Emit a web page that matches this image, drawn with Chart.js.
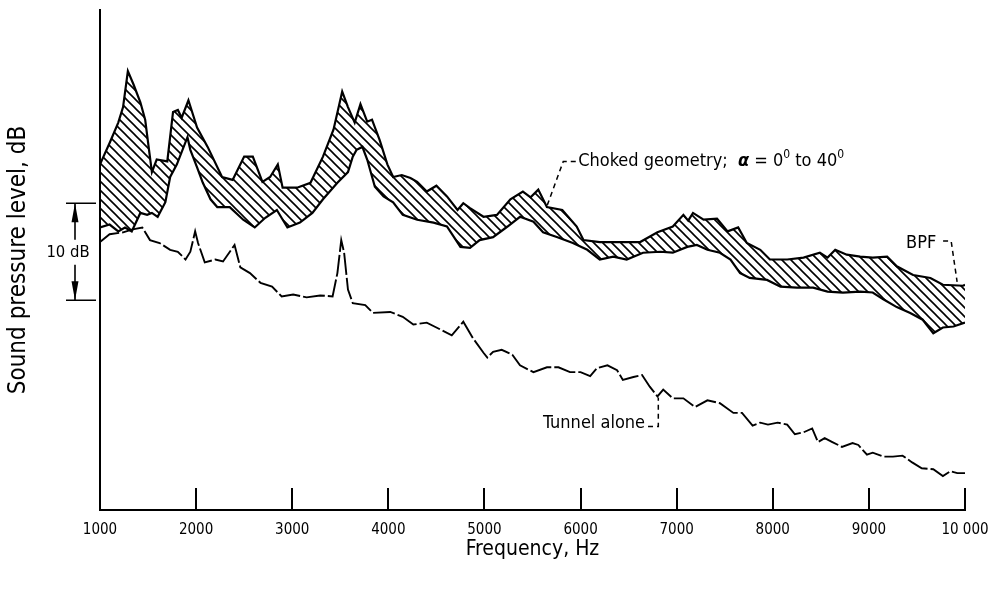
<!DOCTYPE html>
<html>
<head>
<meta charset="utf-8">
<title>Sound pressure level vs frequency</title>
<script src="https://cdn.jsdelivr.net/npm/chart.js@4.4.1/dist/chart.umd.min.js"></script>
<style>
  html, body { margin: 0; padding: 0; background: #fff; }
  canvas { display: block; }
</style>
</head>
<body>
<canvas id="spectrum" width="996" height="590"></canvas>
<script>
// Values: frequency in Hz, level in dB (arbitrary reference, no tick values on the plot)

// upper edge of the hatched band (choked geometry, alpha = 0 to 40 deg)
const bandTopFreq = [1000, 1100, 1190, 1240, 1290, 1350, 1420, 1470, 1510, 1540, 1590, 1700, 1760, 1810, 1850, 1920,
  2010, 2120, 2270, 2380, 2500, 2590, 2690, 2770, 2850, 2900, 3050, 3190, 3320, 3430, 3520, 3580, 3650, 3710, 3780,
  3830, 3910, 3990, 4050, 4140, 4230, 4300, 4400, 4500, 4610, 4720, 4780, 4850, 4990, 5130, 5270, 5400, 5480, 5560,
  5650, 5810, 5960, 6030, 6200, 6410, 6620, 6800, 6960, 7070, 7120, 7170, 7280, 7420, 7530, 7640, 7730, 7870, 7970,
  8150, 8320, 8490, 8570, 8650, 8770, 8910, 9040, 9190, 9290, 9460, 9640, 9770, 9980, 10000];
const bandTopLevel = [95.6, 97.8, 99.9, 101.5, 105.2, 103.8, 102.0, 100.2, 97.1, 94.8, 96.1, 95.9, 101.0, 101.2, 100.4, 102.2,
  99.4, 97.4, 94.3, 94.0, 96.4, 96.4, 93.8, 94.3, 95.6, 93.2, 93.2, 93.7, 96.4, 99.2, 103.1, 101.5, 99.9, 101.8, 100.0,
  100.2, 98.1, 95.6, 94.3, 94.5, 94.2, 93.8, 92.8, 93.4, 92.3, 90.9, 91.6, 91.1, 90.2, 90.4, 92.0, 92.8, 92.2, 93.0,
  91.2, 90.9, 89.2, 87.8, 87.6, 87.6, 87.6, 88.6, 89.2, 90.4, 89.8, 90.6, 89.9, 90.0, 88.7, 89.1, 87.5, 86.8, 85.8,
  85.8, 86.0, 86.5, 86.0, 86.8, 86.3, 86.1, 86.0, 86.1, 85.1, 84.2, 83.9, 83.2, 83.1, 83.2];

// lower edge of the hatched band
const bandBottomFreq = [1000, 1100, 1190, 1260, 1330, 1420, 1490, 1540, 1600, 1680, 1730, 1800, 1910, 1940, 2010, 2070,
  2150, 2220, 2350, 2490, 2610, 2720, 2840, 2950, 3080, 3210, 3320, 3470, 3580, 3630, 3670, 3730, 3780, 3860, 3950,
  4050, 4150, 4300, 4470, 4610, 4750, 4850, 4950, 5090, 5240, 5370, 5510, 5610, 5760, 5920, 6070, 6200, 6340, 6480,
  6650, 6830, 6960, 7110, 7210, 7320, 7450, 7560, 7660, 7760, 7940, 8080, 8250, 8420, 8570, 8730, 8910, 9040, 9150,
  9290, 9430, 9560, 9670, 9770, 9880, 10000];
const bandBottomLevel = [89.1, 89.4, 88.7, 89.1, 88.7, 90.6, 90.4, 90.6, 90.2, 91.7, 94.3, 95.6, 98.4, 97.1, 95.3, 93.7,
  92.0, 91.2, 91.2, 89.9, 89.1, 90.1, 90.9, 89.1, 89.6, 90.6, 92.0, 93.7, 94.8, 96.4, 97.1, 97.4, 96.1, 93.3, 92.3,
  91.7, 90.4, 89.9, 89.6, 89.2, 87.1, 87.0, 87.8, 88.1, 89.2, 90.2, 89.7, 88.6, 88.1, 87.5, 86.8, 85.8, 86.1, 85.8,
  86.5, 86.6, 86.5, 87.1, 87.3, 86.8, 86.5, 85.8, 84.4, 83.9, 83.7, 83.0, 82.9, 82.9, 82.5, 82.4, 82.5, 82.4, 81.7,
  80.9, 80.3, 79.6, 78.2, 78.8, 78.9, 79.3];

// tunnel alone
const tunnelFreq = [1000, 1100, 1240, 1340, 1440, 1520, 1620, 1730, 1810, 1890, 1940, 1990, 2020, 2090, 2200, 2280,
  2400, 2460, 2560, 2670, 2790, 2890, 3010, 3150, 3290, 3420, 3470, 3510, 3540, 3580, 3630, 3760, 3840, 4020, 4150,
  4260, 4400, 4540, 4660, 4780, 4880, 4990, 5030, 5090, 5180, 5290, 5370, 5510, 5650, 5770, 5890, 6000, 6100, 6170,
  6280, 6380, 6440, 6550, 6640, 6720, 6800, 6860, 6960, 7070, 7190, 7320, 7450, 7590, 7680, 7790, 7870, 7950, 8050,
  8150, 8230, 8320, 8410, 8470, 8540, 8620, 8720, 8830, 8890, 8980, 9040, 9150, 9250, 9350, 9450, 9550, 9670, 9770,
  9850, 9920, 10000];
const tunnelLevel = [87.6, 88.4, 88.6, 88.9, 89.1, 87.8, 87.5, 86.8, 86.6, 85.8, 86.6, 88.7, 87.5, 85.5, 85.8, 85.6,
  87.3, 85.0, 84.4, 83.4, 83.0, 82.0, 82.2, 81.9, 82.1, 82.0, 84.4, 87.8, 86.5, 82.7, 81.3, 81.1, 80.3, 80.4, 79.9,
  79.1, 79.3, 78.6, 78.0, 79.4, 77.7, 76.2, 75.7, 76.3, 76.5, 76.0, 74.9, 74.2, 74.7, 74.7, 74.2, 74.2, 73.8, 74.6,
  74.9, 74.4, 73.4, 73.7, 73.9, 72.7, 71.7, 72.4, 71.5, 71.5, 70.6, 71.3, 71.0, 70.0, 70.0, 68.7, 69.0, 68.8, 69.0,
  68.8, 67.8, 68.0, 68.4, 67.0, 67.4, 67.0, 66.5, 66.9, 66.7, 65.7, 65.9, 65.5, 65.5, 65.6, 64.9, 64.3, 64.2, 63.5,
  64.0, 63.8, 63.8];

const freqTicks = [1000, 2000, 3000, 4000, 5000, 6000, 7000, 8000, 9000, 10000];
const freqTickLabels = ["1000", "2000", "3000", "4000", "5000", "6000", "7000", "8000", "9000", "10 000"];

// 10 dB scale bar drawn beside the level axis
const scaleBarTop = 91.6;
const scaleBarSpan = 10;

const NARROW = "'DejaVu Sans Condensed', 'DejaVu Sans', sans-serif";

function toPoints(freqs, levels) {
    return freqs.map((f, i) => ({ x: f, y: levels[i] }));
}

// diagonal hatching for the band between the two choked-geometry curves
function makeHatch(ctx) {
    const size = 9;
    const tile = document.createElement("canvas");
    tile.width = size;
    tile.height = size;
    const g = tile.getContext("2d");
    g.strokeStyle = "#000";
    g.lineWidth = 1.6;
    g.beginPath();
    g.moveTo(-2, -2); g.lineTo(size + 2, size + 2);
    g.moveTo(-2, size - 2); g.lineTo(2, size + 2);
    g.moveTo(size - 2, -2); g.lineTo(size + 2, 2);
    g.stroke();
    return ctx.createPattern(tile, "repeat");
}

// inward tick marks on the frequency axis + the 10 dB bar on the left
const axisDecorations = {
    id: "axisDecorations",
    afterDraw(chart) {
        const { ctx, chartArea, scales: { x, y } } = chart;
        ctx.save();
        ctx.strokeStyle = "#000";
        ctx.fillStyle = "#000";

        ctx.lineWidth = 2;
        x.ticks.forEach((t, i) => {
            if (i === 0) return; // the level axis sits there
            const px = Math.round(x.getPixelForValue(t.value));
            ctx.beginPath();
            ctx.moveTo(px, chartArea.bottom);
            ctx.lineTo(px, chartArea.bottom - 22);
            ctx.stroke();
        });

        const left = chartArea.left;
        const yTop = y.getPixelForValue(scaleBarTop);
        const yBot = y.getPixelForValue(scaleBarTop - scaleBarSpan);
        const yMid = (yTop + yBot) / 2;
        const ax = left - 25;

        ctx.lineWidth = 1.6;
        ctx.beginPath();
        ctx.moveTo(left - 34, yTop); ctx.lineTo(left - 4, yTop);
        ctx.moveTo(left - 34, yBot); ctx.lineTo(left - 4, yBot);
        ctx.moveTo(ax, yTop); ctx.lineTo(ax, yMid - 12);
        ctx.moveTo(ax, yMid + 13); ctx.lineTo(ax, yBot);
        ctx.stroke();

        // arrow heads
        ctx.beginPath();
        ctx.moveTo(ax, yTop); ctx.lineTo(ax - 3.5, yTop + 19); ctx.lineTo(ax + 3.5, yTop + 19); ctx.closePath();
        ctx.moveTo(ax, yBot); ctx.lineTo(ax - 3.5, yBot - 19); ctx.lineTo(ax + 3.5, yBot - 19); ctx.closePath();
        ctx.fill();

        ctx.font = "16.5px " + NARROW;
        ctx.textAlign = "center";
        ctx.textBaseline = "middle";
        ctx.fillStyle = "#fff";
        ctx.fillRect(left - 54, yMid - 10, 44, 20);
        ctx.fillStyle = "#000";
        ctx.fillText("10 dB", left - 32, yMid + 1);
        ctx.restore();
    }
};

// run a dashed leader through points given in (Hz, dB)
function leader(ctx, x, y, path) {
    ctx.beginPath();
    path.forEach(([f, l], i) => {
        const px = x.getPixelForValue(f);
        const py = y.getPixelForValue(l);
        if (i === 0) ctx.moveTo(px, py); else ctx.lineTo(px, py);
    });
    ctx.stroke();
}

// write text made of pieces, some of them raised as superscripts
function pieces(ctx, px, py, parts) {
    let cx = px;
    parts.forEach(p => {
        ctx.font = p.font;
        ctx.fillText(p.text, cx, py - (p.raise || 0));
        cx += ctx.measureText(p.text).width;
    });
}

const notes = {
    id: "notes",
    afterDatasetsDraw(chart) {
        const { ctx, scales: { x, y } } = chart;
        ctx.save();
        ctx.strokeStyle = "#000";
        ctx.fillStyle = "#000";
        ctx.lineWidth = 1.5;
        ctx.setLineDash([5, 4]);
        ctx.textBaseline = "middle";

        // Choked geometry
        leader(ctx, x, y, [[5950, 95.9], [5820, 95.9], [5650, 91.3]]);
        ctx.textAlign = "left";
        const normal = "18px " + NARROW;
        pieces(ctx, x.getPixelForValue(5975), y.getPixelForValue(95.9), [
            { text: "Choked geometry;  ", font: normal },
            { text: "\u03b1", font: "bold italic 18px " + NARROW },
            { text: " = 0", font: normal },
            { text: "0", font: "12px " + NARROW, raise: 7 },
            { text: " to 40", font: normal },
            { text: "0", font: "12px " + NARROW, raise: 7 }
        ]);

        // BPF
        leader(ctx, x, y, [[9772, 87.7], [9856, 87.7], [9918, 83.5]]);
        ctx.font = normal;
        ctx.fillText("BPF", x.getPixelForValue(9387), y.getPixelForValue(87.5));

        // Tunnel alone
        leader(ctx, x, y, [[6702, 68.6], [6809, 68.6], [6809, 71.6]]);
        ctx.textAlign = "right";
        ctx.fillText("Tunnel alone", x.getPixelForValue(6671), y.getPixelForValue(68.9));

        ctx.restore();
    }
};

const canvas = document.getElementById("spectrum");
const hatch = makeHatch(canvas.getContext("2d"));

new Chart(canvas, {
    type: "line",
    data: {
        datasets: [
            {
                label: "Choked geometry, lower",
                data: toPoints(bandBottomFreq, bandBottomLevel),
                borderColor: "#000",
                borderWidth: 2.2,
                pointRadius: 0,
                tension: 0,
                fill: false
            },
            {
                label: "Choked geometry, upper",
                data: toPoints(bandTopFreq, bandTopLevel),
                borderColor: "#000",
                borderWidth: 2.2,
                pointRadius: 0,
                tension: 0,
                fill: "-1",
                backgroundColor: hatch
            },
            {
                label: "Tunnel alone",
                data: toPoints(tunnelFreq, tunnelLevel),
                borderColor: "#000",
                borderWidth: 1.9,
                borderDash: [22, 3],
                pointRadius: 0,
                tension: 0,
                fill: false
            }
        ]
    },
    options: {
        responsive: false,
        animation: false,
        devicePixelRatio: 1,
        layout: { padding: { top: 10, right: 31, bottom: 0, left: 0 } },
        plugins: {
            legend: { display: false },
            tooltip: { enabled: false }
        },
        scales: {
            x: {
                type: "linear",
                min: 1000,
                max: 10000,
                grid: { display: false },
                border: { display: true, color: "#000", width: 2 },
                afterBuildTicks: s => { s.ticks = freqTicks.map(v => ({ value: v })); },
                afterFit: s => { s.height = 80; },
                ticks: {
                    color: "#000",
                    font: { family: NARROW, size: 15 },
                    padding: 3,
                    maxRotation: 0,
                    autoSkip: false,
                    callback: v => freqTickLabels[freqTicks.indexOf(v)]
                },
                title: {
                    display: true,
                    text: "Frequency, Hz",
                    color: "#000",
                    font: { family: NARROW, size: 21 },
                    padding: { top: 0, bottom: 28 }
                }
            },
            y: {
                min: 60,
                max: 111.5,
                grid: { display: false },
                border: { display: true, color: "#000", width: 2 },
                ticks: { display: false },
                afterFit: s => { s.width = 100; },
                title: {
                    display: true,
                    text: "Sound pressure level, dB",
                    color: "#000",
                    font: { family: NARROW, size: 24 },
                    padding: { top: 4, bottom: 0 }
                }
            }
        }
    },
    plugins: [axisDecorations, notes]
});
</script>
</body>
</html>
